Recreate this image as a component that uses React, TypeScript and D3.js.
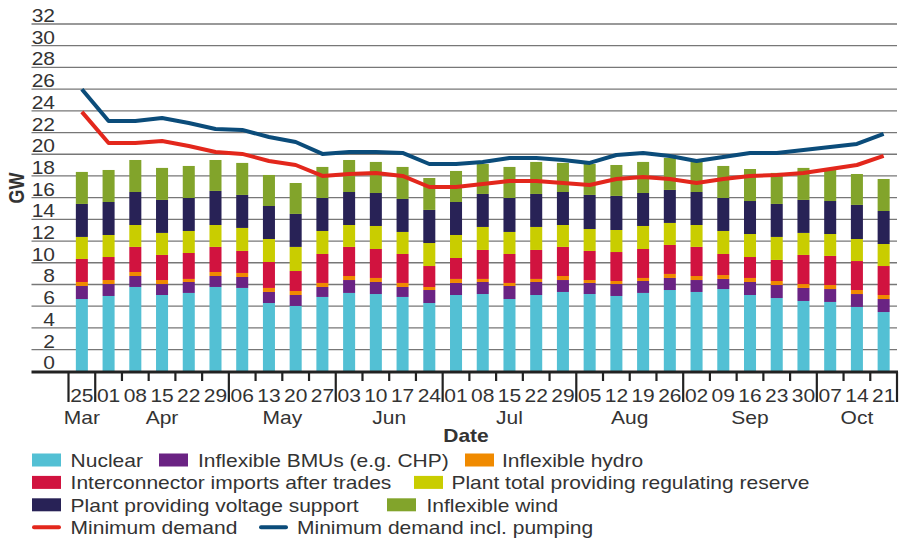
import React, { useEffect } from "react";
import * as d3 from "d3";

// week-commencing labels, one per bar
const dates = [
  "25", "01", "08", "15", "22", "29", "06", "13", "20", "27", "03", "10", "17", "24",
  "01", "08", "15", "22", "29", "05", "12", "19", "26", "02", "09", "16", "23", "30",
  "07", "14", "21",
];

// month groups: first and last bar index
const months = [
  { name: "Mar", start: 0, end: 0 },
  { name: "Apr", start: 1, end: 5 },
  { name: "May", start: 6, end: 9 },
  { name: "Jun", start: 10, end: 13 },
  { name: "Jul", start: 14, end: 18 },
  { name: "Aug", start: 19, end: 22 },
  { name: "Sep", start: 23, end: 27 },
  { name: "Oct", start: 28, end: 30 },
];

const yTicks = d3.range(0, 33, 2);

// GW, stacked bottom to top
const nuclear = [6.66, 6.94, 7.77, 7.03, 7.22, 7.77, 7.68, 6.29, 6.02, 6.85, 7.22, 7.12, 6.85, 6.29, 7.03, 7.12, 6.66, 7.03, 7.31, 7.12, 6.94, 7.22, 7.49, 7.31, 7.58, 7.03, 6.75, 6.48, 6.39, 5.93, 5.46];
const bmus = [1.2, 1.1, 1.01, 1.01, 1.01, 1.01, 1.01, 1.02, 1.01, 0.92, 1.19, 1.11, 0.92, 1.2, 1.11, 1.11, 1.2, 1.2, 1.1, 1.02, 1.1, 1.1, 1.11, 1.1, 0.93, 1.2, 1.2, 1.2, 1.19, 1.19, 1.2];
const hydro = [0.37, 0.37, 0.37, 0.37, 0.28, 0.37, 0.37, 0.37, 0.37, 0.37, 0.37, 0.37, 0.37, 0.28, 0.37, 0.28, 0.28, 0.28, 0.37, 0.27, 0.28, 0.28, 0.37, 0.37, 0.36, 0.37, 0.37, 0.36, 0.37, 0.37, 0.37];
const interconnector = [2.12, 2.12, 2.31, 2.31, 2.39, 2.31, 2.03, 2.39, 1.84, 2.67, 2.68, 2.67, 2.67, 1.93, 1.93, 2.67, 2.67, 2.67, 2.68, 2.68, 2.67, 2.67, 2.67, 2.68, 1.94, 1.93, 1.94, 2.68, 2.68, 2.67, 2.67];
const regulating = [2.03, 2.03, 2.02, 2.03, 2.03, 2.02, 2.12, 2.12, 2.22, 2.12, 2.02, 2.12, 2.03, 2.12, 2.12, 2.12, 2.03, 2.12, 2.02, 2.02, 2.03, 2.12, 2.03, 2.02, 2.12, 2.12, 2.12, 2.03, 2.02, 2.03, 2.03];
const voltage = [3.04, 3.04, 3.04, 3.04, 3.04, 3.14, 3.04, 3.04, 3.04, 3.04, 3.04, 3.04, 3.04, 3.05, 3.04, 3.04, 3.13, 3.04, 3.04, 3.14, 3.14, 3.04, 3.04, 3.04, 3.04, 3.04, 3.04, 3.04, 3.04, 3.14, 3.04];
const wind = [2.95, 2.95, 2.95, 2.95, 2.95, 2.85, 2.95, 2.86, 2.85, 2.86, 2.95, 2.86, 2.95, 2.94, 2.86, 2.76, 2.86, 2.95, 2.68, 2.85, 2.85, 2.86, 2.95, 2.77, 2.95, 2.95, 2.86, 2.95, 2.86, 2.85, 2.95];

const minDemand = [23.9, 21.04, 21.04, 21.22, 20.76, 20.21, 20.03, 19.38, 19.01, 18.0, 18.18, 18.28, 18.0, 16.98, 16.98, 17.26, 17.54, 17.54, 17.35, 17.17, 17.72, 17.91, 17.72, 17.35, 17.72, 18.0, 18.09, 18.28, 18.64, 19.01, 19.84];
const minDemandPumping = [25.99, 23.07, 23.07, 23.34, 22.88, 22.33, 22.24, 21.59, 21.13, 20.03, 20.21, 20.21, 20.12, 19.1, 19.1, 19.29, 19.66, 19.66, 19.47, 19.2, 19.93, 20.12, 19.84, 19.38, 19.75, 20.12, 20.12, 20.4, 20.67, 20.95, 21.87];

const series = [
  { key: "nuclear", label: "Nuclear", color: "#53c0d4", values: nuclear },
  { key: "bmus", label: "Inflexible BMUs (e.g. CHP)", color: "#6a2383", values: bmus },
  { key: "hydro", label: "Inflexible hydro", color: "#f08a00", values: hydro },
  { key: "interconnector", label: "Interconnector imports after trades", color: "#d1133f", values: interconnector },
  { key: "regulating", label: "Plant total providing regulating reserve", color: "#c9cd00", values: regulating },
  { key: "voltage", label: "Plant providing voltage support", color: "#282256", values: voltage },
  { key: "wind", label: "Inflexible wind", color: "#82a42b", values: wind },
];

const lines = [
  { key: "min", label: "Minimum demand", color: "#e3271c", values: minDemand },
  { key: "pump", label: "Minimum demand incl. pumping", color: "#0b4c7a", values: minDemandPumping },
];

const FONT = "'Liberation Sans', Arial, Helvetica, sans-serif";
const FS = 17.5;
const SX = 1.2; // the original text is drawn a little wide

function T({ x, y, anchor = "start", bold = false, children }: any) {
  return (
    <text
      transform={`translate(${x},${y}) scale(${SX},1)`}
      textAnchor={anchor}
      fontFamily={FONT}
      fontSize={FS}
      fontWeight={bold ? "bold" : "normal"}
      fill="#333"
    >
      {children}
    </text>
  );
}

export default function App() {
  useEffect(() => {
    document.body.style.margin = "0";
  }, []);

  const width = 903;
  const height = 542;

  const x = d3
    .scaleBand<number>()
    .domain(d3.range(dates.length))
    .range([68.5, 897])
    .paddingInner(0.55)
    .paddingOuter(0.275);
  const step = x.step();
  const cx = (i: number) => (x(i) as number) + x.bandwidth() / 2;

  const y = d3.scaleLinear().domain([0, 32]).range([371.3, 24]);

  const table = dates.map((d, i) => {
    const row: any = { i };
    series.forEach((s) => (row[s.key] = s.values[i]));
    return row;
  });
  const stacked = d3.stack().keys(series.map((s) => s.key))(table);

  const line = d3
    .line<number>()
    .x((_, i) => cx(i))
    .y((v) => y(v));

  const majorIdx = new Set(months.map((m) => m.start).concat([dates.length]));
  const boundaries = d3.range(dates.length + 1);

  const legendRows = [
    [
      { s: series[0], sx: 32, tx: 70.6 },
      { s: series[1], sx: 159, tx: 198 },
      { s: series[2], sx: 465, tx: 502 },
    ],
    [
      { s: series[3], sx: 32, tx: 70.6 },
      { s: series[4], sx: 414, tx: 451.4 },
    ],
    [
      { s: series[5], sx: 32, tx: 70.6 },
      { s: series[6], sx: 387, tx: 426.5 },
    ],
  ];
  const lineLegend = [
    { l: lines[0], sx: 32, tx: 70.6 },
    { l: lines[1], sx: 259, tx: 297 },
  ];

  return (
    <svg width={width} height={height} style={{ display: "block" }}>
      <rect width={width} height={height} fill="#fff" />

      {/* gridlines */}
      {yTicks.slice(1).map((t) => (
        <line key={t} x1={31.5} x2={897} y1={y(t)} y2={y(t)} stroke="#777" strokeWidth={1.3} />
      ))}
      {yTicks.map((t) => (
        <T key={t} x={55} y={y(t) - 2} anchor="end">
          {t}
        </T>
      ))}
      <text
        transform={`translate(23.5,188) rotate(-90) scale(1,${SX})`}
        textAnchor="middle"
        fontFamily={FONT}
        fontSize={18}
        fontWeight="bold"
        fill="#333"
      >
        GW
      </text>

      {/* bars */}
      {stacked.map((layer, si) => (
        <g key={layer.key} fill={series[si].color}>
          {layer.map((d, i) => (
            <rect
              key={i}
              x={x(i)}
              width={x.bandwidth()}
              y={y(d[1])}
              height={y(d[0]) - y(d[1])}
            />
          ))}
        </g>
      ))}

      {/* demand lines */}
      {lines.map((l) => (
        <path
          key={l.key}
          d={line(l.values) as string}
          fill="none"
          stroke={l.color}
          strokeWidth={4}
          strokeLinejoin="round"
        />
      ))}

      {/* x axis */}
      <line x1={31.5} x2={898} y1={372} y2={372} stroke="#222" strokeWidth={3} />
      {boundaries.map((b) => {
        const bx = (b < dates.length ? cx(b) : cx(b - 1) + step) - step / 2;
        return (
          <line
            key={b}
            x1={bx}
            x2={bx}
            y1={372}
            y2={majorIdx.has(b) ? 402 : 381}
            stroke="#222"
            strokeWidth={2.2}
          />
        );
      })}
      {dates.map((d, i) => (
        <T key={i} x={cx(i)} y={401.7} anchor="middle">
          {d}
        </T>
      ))}
      {months.map((m) => (
        <T key={m.name} x={(cx(m.start) + cx(m.end)) / 2} y={424} anchor="middle">
          {m.name}
        </T>
      ))}
      <T x={466} y={441.7} anchor="middle" bold>
        Date
      </T>

      {/* legend */}
      {legendRows.map((row, ri) =>
        row.map((it) => (
          <g key={it.s.key}>
            <rect x={it.sx} y={453.5 + ri * 22.4} width={29} height={13} fill={it.s.color} />
            <T x={it.tx} y={466.7 + ri * 22.4}>
              {it.s.label}
            </T>
          </g>
        ))
      )}
      {lineLegend.map((it) => (
        <g key={it.l.key}>
          <line
            x1={it.sx + 2}
            x2={it.sx + 27}
            y1={527.3}
            y2={527.3}
            stroke={it.l.color}
            strokeWidth={4}
            strokeLinecap="round"
          />
          <T x={it.tx} y={533.9}>
            {it.l.label}
          </T>
        </g>
      ))}
    </svg>
  );
}
